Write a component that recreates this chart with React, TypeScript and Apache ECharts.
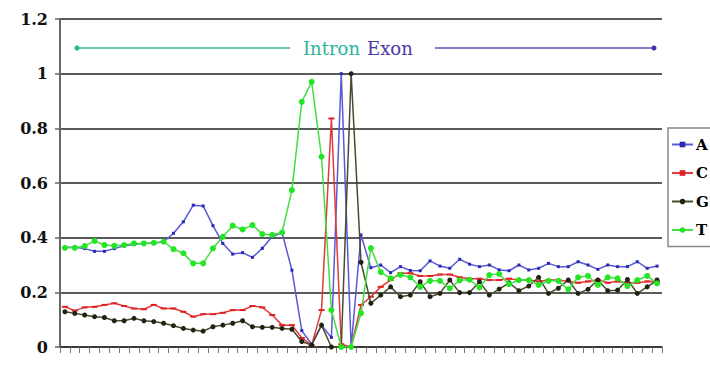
import React, { useEffect, useRef } from "react";
import * as echarts from "echarts";

const positions: string[] = Array.from({ length: 61 }, (_, i) => String(i + 1));

const seriesA: number[] = [
  0.365, 0.365, 0.36, 0.35, 0.35, 0.36, 0.37, 0.375, 0.38, 0.38,
  0.385, 0.416, 0.458, 0.519, 0.516, 0.444, 0.379, 0.34, 0.345, 0.328,
  0.361, 0.403, 0.419, 0.281, 0.06, 0.01, 0.08, 0.035, 1.0, 0.0,
  0.41, 0.29, 0.3, 0.272, 0.294, 0.28, 0.279, 0.315, 0.296, 0.288,
  0.321, 0.303, 0.294, 0.3, 0.282, 0.279, 0.3, 0.282, 0.288, 0.306,
  0.294, 0.294, 0.312, 0.3, 0.284, 0.3, 0.294, 0.294, 0.312, 0.288,
  0.296,
];

const seriesC: number[] = [
  0.147, 0.133, 0.145, 0.147, 0.154, 0.16, 0.15, 0.141, 0.138, 0.154,
  0.141, 0.141, 0.129, 0.111, 0.12, 0.12, 0.125, 0.135, 0.135, 0.15,
  0.145, 0.117, 0.08, 0.08, 0.033, 0.007, 0.135, 0.836, 0.01, 0.0,
  0.154, 0.184, 0.22, 0.245, 0.27, 0.27, 0.26, 0.26, 0.265, 0.265,
  0.255, 0.25, 0.25, 0.245, 0.245, 0.25, 0.245, 0.245, 0.24, 0.245,
  0.245, 0.24, 0.235, 0.24, 0.245, 0.235, 0.24, 0.235, 0.235, 0.24,
  0.24,
];

const seriesG: number[] = [
  0.129, 0.123, 0.117, 0.111, 0.108, 0.096, 0.096, 0.105, 0.096, 0.093,
  0.087, 0.078, 0.068, 0.062, 0.058, 0.074, 0.08, 0.087, 0.096, 0.074,
  0.072, 0.072, 0.068, 0.065, 0.02, 0.007, 0.08, 0.0, 0.0, 1.0,
  0.31, 0.16, 0.19, 0.22, 0.184, 0.19, 0.239, 0.184, 0.196, 0.245,
  0.199, 0.199, 0.239, 0.19, 0.212, 0.235, 0.206, 0.223, 0.255, 0.196,
  0.215, 0.245, 0.196, 0.211, 0.245, 0.206, 0.208, 0.247, 0.196, 0.22,
  0.245,
];

const seriesT: number[] = [
  0.363, 0.363, 0.369, 0.388, 0.373, 0.37, 0.373, 0.379, 0.379, 0.381,
  0.385, 0.358, 0.343, 0.306, 0.306, 0.361, 0.403, 0.444, 0.43, 0.446,
  0.413, 0.41, 0.419, 0.574, 0.897, 0.97, 0.696, 0.135, 0.0, 0.0,
  0.124, 0.362, 0.274, 0.251, 0.264, 0.255, 0.22, 0.242, 0.242, 0.215,
  0.244, 0.246, 0.218, 0.263, 0.267, 0.23, 0.245, 0.245, 0.227, 0.242,
  0.242, 0.211, 0.255, 0.26, 0.227, 0.255, 0.251, 0.223, 0.245, 0.26,
  0.233,
];

const seriesNames: string[] = ["A", "C", "G", "T"];

export default function App() {
  const ref = useRef<HTMLDivElement>(null);

  useEffect(() => {
    if (!ref.current) return;
    const chart = echarts.init(ref.current, null, { renderer: "svg" });
    const serif = "DejaVu Serif";
    chart.setOption({
      animation: false,
      backgroundColor: "#ffffff",
      grid: { left: 60, right: 48, top: 19, bottom: 28, containLabel: false },
      legend: {
        orient: "vertical",
        left: 668,
        top: 128,
        padding: [9, 3, 9, 3],
        itemWidth: 21,
        itemHeight: 7,
        itemGap: 13.5,
        borderColor: "#888888",
        borderWidth: 1.5,
        backgroundColor: "#ffffff",
        textStyle: {
          fontFamily: serif,
          fontWeight: "bold",
          fontSize: 15,
          color: "#000000",
          lineHeight: 14,
          padding: [0, 0, 0, -2],
        },
        data: seriesNames,
      },
      xAxis: {
        type: "category",
        data: positions,
        boundaryGap: true,
        axisLine: { lineStyle: { color: "#333333", width: 1.5 } },
        axisTick: { show: true, interval: 0, length: 6, lineStyle: { color: "#777777", width: 1 } },
        axisLabel: { show: false },
        splitLine: { show: false },
      },
      yAxis: {
        type: "value",
        min: 0,
        max: 1.2,
        interval: 0.2,
        axisLine: { show: true, lineStyle: { color: "#666666", width: 2 } },
        axisTick: { show: true, length: 5, lineStyle: { color: "#666666", width: 1.5 } },
        axisLabel: {
          margin: 12,
          fontFamily: serif,
          fontWeight: "bold",
          fontSize: 16,
          color: "#111111",
          formatter: (v: number) => String(Math.round(v * 10) / 10),
        },
        splitLine: { show: true, lineStyle: { color: "#5a5a5a", width: 2 } },
      },
      series: [
        {
          name: "A",
          type: "line",
          data: seriesA,
          symbol: "rect",
          symbolSize: 3,
          lineStyle: { color: "#5858d8", width: 1.5 },
          itemStyle: { color: "#2a2ab0" },
          z: 3,
        },
        {
          name: "C",
          type: "line",
          data: seriesC,
          symbol: "rect",
          symbolSize: [6, 2],
          lineStyle: { color: "#e03a3a", width: 1.5 },
          itemStyle: { color: "#e02020" },
          z: 4,
        },
        {
          name: "G",
          type: "line",
          data: seriesG,
          symbol: "circle",
          symbolSize: 5,
          lineStyle: { color: "#4a4a30", width: 1.5 },
          itemStyle: { color: "#222211" },
          z: 5,
        },
        {
          name: "T",
          type: "line",
          data: seriesT,
          symbol: "circle",
          symbolSize: 6,
          lineStyle: { color: "#44dd44", width: 1.5 },
          itemStyle: { color: "#22e622" },
          z: 6,
        },
      ],
      graphic: [
        {
          type: "line",
          shape: { x1: 78, y1: 48, x2: 290, y2: 48 },
          style: { stroke: "#33bba0", lineWidth: 1.5 },
        },
        { type: "circle", shape: { cx: 77, cy: 48, r: 2.5 }, style: { fill: "#22b898" } },
        {
          type: "text",
          x: 303,
          y: 48,
          style: {
            text: "Intron",
            fill: "#2cb59a",
            font: "18px 'DejaVu Serif'",
            verticalAlign: "middle",
            align: "left",
          },
        },
        {
          type: "text",
          x: 367,
          y: 48,
          style: {
            text: "Exon",
            fill: "#4a3aa8",
            font: "18px 'DejaVu Serif'",
            verticalAlign: "middle",
            align: "left",
          },
        },
        {
          type: "line",
          shape: { x1: 435, y1: 48, x2: 653, y2: 48 },
          style: { stroke: "#5a55b5", lineWidth: 1.5 },
        },
        { type: "circle", shape: { cx: 654, cy: 48, r: 2.5 }, style: { fill: "#3a35a8" } },
      ],
    });
    return () => chart.dispose();
  }, []);

  return (
    <div
      ref={ref}
      style={{ position: "fixed", left: 0, top: 0, width: 710, height: 375, background: "#ffffff" }}
    />
  );
}
